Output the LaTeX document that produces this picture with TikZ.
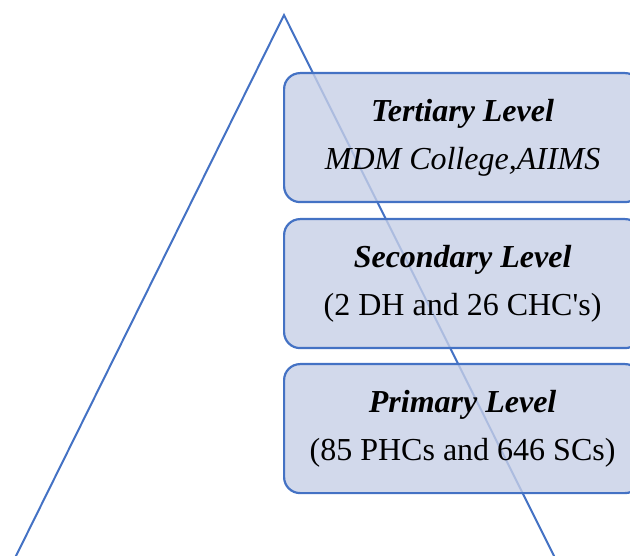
\documentclass[tikz,border=0pt]{standalone}
\usepackage{fontspec}
\setmainfont{Liberation Serif}
\definecolor{lvlline}{HTML}{4472C4}
\definecolor{lvlfill}{HTML}{C7CFE6}
\begin{document}
\begin{tikzpicture}[x=1pt, y=-1pt, lvl/.style={draw=lvlline, line width=2.2pt, fill=lvlfill, fill opacity=0.8, text opacity=1, rounded corners=16pt, minimum width=357pt, minimum height=129pt, align=center, font=\fontsize{32}{48}\selectfont, anchor=north west, inner sep=0pt}]
        \useasboundingbox (0,0) rectangle (630,556);
        \clip (0,0) rectangle (630,556);
        \def\apexx{284}
        
        \coordinate (apex) at (\apexx,15);
        \coordinate (baseL) at (14,560);
        \coordinate (baseR) at (556,560);
        \draw[color=lvlline, line width=2pt] (baseL) -- (apex) -- (baseR);
        
        \node[lvl] (tertiary) at (283,72) {\textbf{\textit{Tertiary Level}}\\\textit{MDM College,AIIMS}};
        \node[lvl] (secondary) at (283,218) {\textbf{\textit{Secondary Level}}\\(2 DH and 26 CHC\textquotesingle s)};
        \node[lvl] (primary) at (283,363) {\textbf{\textit{Primary Level}}\\(85 PHCs and 646 SCs)};
        
    \end{tikzpicture}
\end{document}
